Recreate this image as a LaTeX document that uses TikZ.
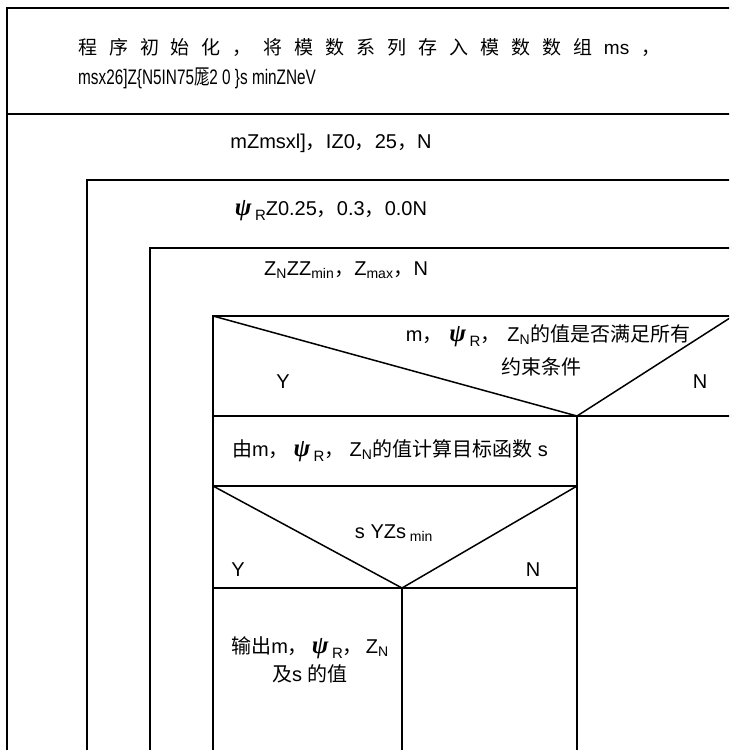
\documentclass[tikz,border=0pt]{standalone}
\usepackage{fontspec}
\setmainfont{Liberation Sans}
\newfontfamily\cjk{Noto Sans CJK SC}
\newfontfamily\grk{Liberation Serif}
\newcommand\C[1]{{\cjk #1}}
\newcommand\psiR{{\grk\itshape\bfseries\fontsize{25}{25}\selectfont ψ}\,\raisebox{-5pt}{\fontsize{15}{15}\selectfont R}}
\newcommand\sbs[1]{\textsubscript{#1}}
\tikzset{
  frame/.style={line width=1.5pt, line cap=rect},
  txt/.style={inner sep=0pt, font=\fontsize{20}{24}\selectfont},
}
\begin{document}
\begin{tikzpicture}[x=1pt,y=-1pt]
\useasboundingbox (0,0) rectangle (729,750);
\fill[white] (0,0) rectangle (729,750);
\clip (0,0) rectangle (729,750);
% frames
\draw[frame] (7,752) -- (7,8) -- (731,8);
\draw[frame] (7,114) -- (731,114);
\draw[frame] (87,752) -- (87,180) -- (731,180);
\draw[frame] (150,752) -- (150,248) -- (731,248);
\draw[frame] (213,752) -- (213,316) -- (731,316);
\draw[frame] (213,316) -- (577,416) -- (733,316);
\draw[frame] (213,416) -- (731,416);
\draw[frame] (577,416) -- (577,752);
\draw[frame] (213,486) -- (577,486);
\draw[frame] (213,486) -- (402,588) -- (577,486);
\draw[frame] (213,588) -- (577,588);
\draw[frame] (402,588) -- (402,752);
% texts
\node[txt, anchor=west] (l1) at (78,47) {\fontsize{19}{22}\selectfont\makebox[582pt][s]{\C{程}\hfill\C{序}\hfill\C{初}\hfill\C{始}\hfill\C{化}\hfill\C{，}\hfill\C{将}\hfill\C{模}\hfill\C{数}\hfill\C{系}\hfill\C{列}\hfill\C{存}\hfill\C{入}\hfill\C{模}\hfill\C{数}\hfill\C{数}\hfill\C{组}\hfill ms\hfill\C{，}}};
\node[txt, anchor=west] (l2) at (78,78) {\fontsize{21}{24}\selectfont\scalebox{0.73}[1]{msx26]Z\{N5IN75\C{厖}2 0 \}s minZNeV}};
\node[txt] (m) at (331,143) {mZmsxl]\C{，}IZ0\C{，}25\C{，}N};
\node[txt] (psi) at (331,211) {\psiR Z0.25\C{，}0.3\C{，}0.0N};
\node[txt] (z) at (346,270) {Z\sbs{N}ZZ\sbs{min}\C{，}Z\sbs{max}\C{，}N};
\node[txt] (q1) at (548,336) {m\C{，}\hspace{7pt}\psiR\C{，}\hspace{7pt}Z\sbs{N}\C{的值是否满足所有}};
\node[txt] (q1b) at (541,367) {\C{约束条件}};
\node[txt] (y1) at (283,382) {Y};
\node[txt] (n1) at (700,382) {N};
\node[txt] (calc) at (390,451) {\C{由}m\C{，}\hspace{5pt}\psiR\C{，}\hspace{5pt}Z\sbs{N}\C{的值计算目标函数} s};
\node[txt] (q2) at (394,533) {s YZs\sbs{ min}};
\node[txt] (y2) at (238,570) {Y};
\node[txt] (n2) at (533,570) {N};
\node[txt, align=center] (out) at (310,660) {\C{输出}m\C{，}\hspace{4pt}\psiR\C{，}\hspace{3pt}Z\sbs{N}\\[4pt]\C{及}s \C{的值}};
\end{tikzpicture}
\end{document}
